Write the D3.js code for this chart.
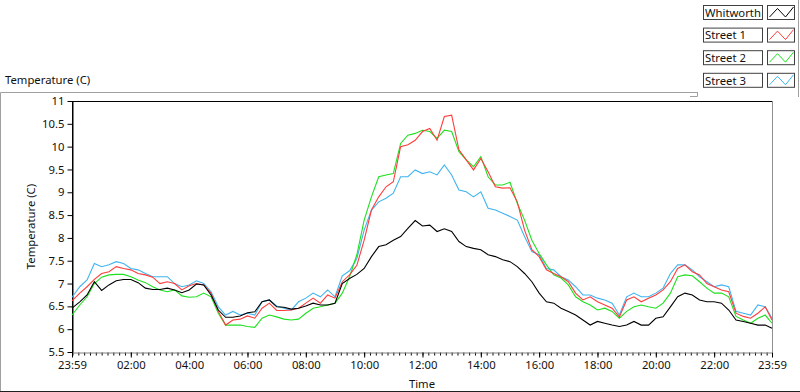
<!DOCTYPE html>
<html><head><meta charset="utf-8">
<script src="https://cdn.jsdelivr.net/npm/d3@7"></script>
<style>
html,body{margin:0;padding:0;background:#fff;}
svg{display:block;font-family:"Noto Sans","Open Sans",sans-serif;}
</style></head>
<body><svg id="c" width="800" height="392"></svg>
<script>
// ---- data ----
const times = ["23:59",
"00:15","00:30","00:45","01:00","01:15","01:30","01:45","02:00","02:15","02:30","02:45","03:00",
"03:15","03:30","03:45","04:00","04:15","04:30","04:45","05:00","05:15","05:30","05:45","06:00",
"06:15","06:30","06:45","07:00","07:15","07:30","07:45","08:00","08:15","08:30","08:45","09:00",
"09:15","09:30","09:45","10:00","10:15","10:30","10:45","11:00","11:15","11:30","11:45","12:00",
"12:15","12:30","12:45","13:00","13:15","13:30","13:45","14:00","14:15","14:30","14:45","15:00",
"15:15","15:30","15:45","16:00","16:15","16:30","16:45","17:00","17:15","17:30","17:45","18:00",
"18:15","18:30","18:45","19:00","19:15","19:30","19:45","20:00","20:15","20:30","20:45","21:00",
"21:15","21:30","21:45","22:00","22:15","22:30","22:45","23:00","23:15","23:30","23:45","23:59"];

const whitworth = [6.46,
6.60,6.75,7.04,6.85,6.97,7.06,7.09,7.09,7.02,6.90,6.87,6.87,
6.90,6.86,6.80,6.86,6.99,6.97,6.75,6.42,6.26,6.26,6.29,6.36,
6.38,6.60,6.64,6.49,6.48,6.44,6.46,6.51,6.57,6.53,6.53,6.57,
7.00,7.11,7.20,7.33,7.59,7.81,7.85,7.95,8.03,8.21,8.38,8.26,
8.28,8.14,8.20,8.14,7.92,7.81,7.77,7.74,7.63,7.59,7.52,7.48,
7.37,7.22,7.04,6.79,6.60,6.57,6.46,6.39,6.31,6.20,6.09,6.17,
6.13,6.09,6.06,6.09,6.17,6.09,6.09,6.24,6.27,6.49,6.71,6.79,
6.75,6.64,6.60,6.60,6.57,6.42,6.20,6.17,6.13,6.09,6.09,6.02];

const street1 = [6.62,
6.79,6.93,7.09,7.22,7.26,7.37,7.33,7.30,7.22,7.19,7.14,7.00,
7.04,7.00,6.86,6.95,7.00,6.97,6.79,6.39,6.09,6.20,6.22,6.29,
6.24,6.46,6.57,6.41,6.41,6.42,6.46,6.57,6.68,6.57,6.75,6.68,
7.04,7.19,7.40,7.95,8.61,8.90,9.12,9.23,10.00,10.04,10.14,10.33,
10.40,10.14,10.66,10.69,9.93,9.71,9.49,9.74,9.45,9.12,9.09,9.10,
8.79,8.17,7.74,7.59,7.30,7.22,7.15,7.04,6.79,6.64,6.71,6.60,
6.53,6.46,6.27,6.64,6.71,6.60,6.68,6.75,6.86,7.04,7.33,7.41,
7.26,7.19,7.00,6.93,6.86,6.82,6.35,6.28,6.24,6.35,6.49,6.20];

const street2 = [6.31,
6.53,6.71,7.00,7.14,7.19,7.20,7.20,7.15,7.08,7.02,6.93,6.86,
6.82,6.86,6.73,6.70,6.71,6.79,6.71,6.35,6.09,6.09,6.09,6.06,
6.04,6.24,6.31,6.27,6.22,6.20,6.22,6.35,6.46,6.49,6.53,6.57,
6.79,7.15,7.63,8.39,8.90,9.34,9.38,9.41,10.07,10.25,10.29,10.36,
10.33,10.18,10.36,10.33,9.89,9.71,9.56,9.78,9.34,9.16,9.16,9.22,
8.76,8.39,7.95,7.66,7.41,7.19,7.12,6.97,6.71,6.60,6.53,6.42,
6.46,6.39,6.24,6.39,6.49,6.53,6.49,6.46,6.57,6.79,7.15,7.19,
7.17,7.04,6.90,6.79,6.79,6.71,6.28,6.20,6.13,6.24,6.31,6.13];

const street3 = [6.70,
6.93,7.08,7.44,7.37,7.41,7.48,7.44,7.33,7.30,7.22,7.15,7.15,
7.15,7.00,6.93,6.97,7.06,7.00,6.82,6.49,6.31,6.39,6.31,6.35,
6.31,6.60,6.64,6.51,6.46,6.42,6.60,6.68,6.79,6.71,6.86,6.71,
7.17,7.28,7.55,8.17,8.61,8.79,8.87,8.98,9.34,9.34,9.49,9.41,
9.45,9.38,9.60,9.38,9.05,9.01,8.90,9.01,8.65,8.61,8.54,8.47,
8.39,8.03,7.70,7.63,7.33,7.30,7.15,7.08,6.93,6.75,6.75,6.68,
6.64,6.57,6.31,6.71,6.79,6.71,6.71,6.79,6.90,7.22,7.41,7.41,
7.30,7.15,7.04,6.93,6.97,6.93,6.39,6.35,6.31,6.53,6.49,6.24];

const seriesNames = ["Whitworth","Street 1","Street 2","Street 3"];
const seriesColors = ["#000000","#ff3c3c","#1ee01e","#40b4f0"];
const yTicks = [5.5,6,6.5,7,7.5,8,8.5,9,9.5,10,10.5,11];
const xTickLabels = ["23:59","02:00","04:00","06:00","08:00","10:00","12:00","14:00","16:00","18:00","20:00","22:00","23:59"];
const axisTitleY = "Temperature (C)";
const axisTitleX = "Time";
const plotLabel = "Temperature (C)";

// ---- helpers ----
function toDate(s, i, n) {
  const [h, m] = s.split(":").map(Number);
  const day = (i === 0) ? 1 : 2;
  return new Date(2000, 0, day, h, m);
}
const dates = times.map((t, i) => toDate(t, i, times.length));
const allSeries = [whitworth, street1, street2, street3];

const svg = d3.select("#c");
const L = 72, R = 772, T = 101, B = 352;
const x = d3.scaleTime().domain([dates[0], dates[dates.length - 1]]).range([L, R]);
const y = d3.scaleLinear().domain([5.5, 11]).range([B, T]);

// outer frame
svg.append("rect").attr("x",0).attr("y",0).attr("width",800).attr("height",392).attr("fill","#fff");
svg.append("path").attr("d","M0.5,391 V92.5 H697").attr("fill","none").attr("stroke","#a0a0a0");
svg.append("line").attr("x1",0).attr("x2",800).attr("y1",391.5).attr("y2",391.5).attr("stroke","#202020");

// plot label
svg.append("text").attr("x",5).attr("y",84).attr("font-size","11.3px").attr("fill","#111").text(plotLabel);

// plot frame
svg.append("rect").attr("x",L).attr("y",T).attr("width",R-L).attr("height",B-T).attr("fill","#fff");
svg.append("line").attr("x1",R+0.5).attr("x2",R+0.5).attr("y1",T).attr("y2",B).attr("stroke","#909090");
svg.append("line").attr("x1",L).attr("x2",R).attr("y1",T+0.5).attr("y2",T+0.5).attr("stroke","#000");

// y axis
const yAxis = d3.axisLeft(y).tickValues(yTicks).tickSize(5).tickSizeOuter(0).tickPadding(3)
  .tickFormat(d => String(d));
const gy = svg.append("g").attr("transform",`translate(${L+0.5},0)`).call(yAxis);
gy.select(".domain").attr("stroke","#000");
gy.selectAll(".tick line").attr("stroke","#000");
gy.selectAll("text").attr("font-size","11.3px").attr("fill","#111").attr("font-family","Noto Sans");

// x axis minor ticks (every 12 min)
const minor = [];
for (let t = new Date(2000,0,2,0,0); t < dates[dates.length-1]; t = new Date(t.getTime() + 12*60000)) minor.push(t);
const gxm = svg.append("g").attr("transform",`translate(0,${B+0.5})`)
  .call(d3.axisBottom(x).tickValues(minor).tickSize(3).tickFormat(""));
gxm.select(".domain").remove();
gxm.selectAll(".tick line").attr("stroke","#000");

const majorDates = xTickLabels.map((s, i) => {
  if (i === 0) return dates[0];
  if (i === xTickLabels.length - 1) return dates[dates.length - 1];
  const [h, m] = s.split(":").map(Number);
  return new Date(2000,0,2,h,m);
});
const xAxis = d3.axisBottom(x).tickValues(majorDates).tickSize(5).tickSizeOuter(0).tickPadding(3)
  .tickFormat((d, i) => xTickLabels[i]);
const gx = svg.append("g").attr("transform",`translate(0,${B+0.5})`).call(xAxis);
gx.select(".domain").attr("stroke","#808080");
gx.selectAll(".tick line").attr("stroke","#000");
gx.selectAll("text").attr("font-size","11.3px").attr("fill","#111").attr("font-family","Noto Sans");
// redraw the left axis line over the domain corner
svg.append("line").attr("x1",L+0.5).attr("x2",L+0.5).attr("y1",T).attr("y2",B+1).attr("stroke","#000");

// axis titles
svg.append("text").attr("transform",`translate(35,${(T+B)/2}) rotate(-90)`).attr("text-anchor","middle")
  .attr("font-size","11.3px").attr("fill","#111").text(axisTitleY);
svg.append("text").attr("x",(L+R)/2).attr("y",388).attr("text-anchor","middle")
  .attr("font-size","11.3px").attr("fill","#111").text(axisTitleX);

// lines
const line = d3.line().x((d, i) => x(dates[i])).y(d => y(d));
const drawOrder = [3, 2, 1, 0];
const gl = svg.append("g");
drawOrder.forEach(k => {
  gl.append("path").datum(allSeries[k]).attr("d", line).attr("fill","none")
    .attr("stroke", seriesColors[k]).attr("stroke-width", 1.1).attr("stroke-linejoin","miter");
});

// legend panel
svg.append("rect").attr("x",697).attr("y",0).attr("width",102).attr("height",96).attr("fill","#fff");
svg.append("path").attr("d","M697.5,92 V96.5 H690").attr("fill","none").attr("stroke","#a0a0a0");
svg.append("line").attr("x1",798.5).attr("x2",798.5).attr("y1",0).attr("y2",97).attr("stroke","#a0a0a0");
const lg = svg.append("g");
seriesNames.forEach((name, i) => {
  const y0 = 5 + i * 22.6;
  lg.append("rect").attr("x",703.5).attr("y",y0 + 0.5).attr("width",59).attr("height",14)
    .attr("fill","#fff").attr("stroke","#404040");
  lg.append("text").attr("x",705).attr("y",y0 + 11.8).attr("font-size","11.3px").attr("fill","#111").text(name);
  lg.append("rect").attr("x",767.5).attr("y",y0 + 0.5).attr("width",27).attr("height",14)
    .attr("fill","#fff").attr("stroke","#404040");
  lg.append("polyline")
    .attr("points",[[769.5,y0+12],[777.5,y0+3.5],[785.5,y0+12],[793.5,y0+2]].map(p=>p.join(",")).join(" "))
    .attr("fill","none").attr("stroke",seriesColors[i]).attr("stroke-width",1);
});
</script></body></html>
